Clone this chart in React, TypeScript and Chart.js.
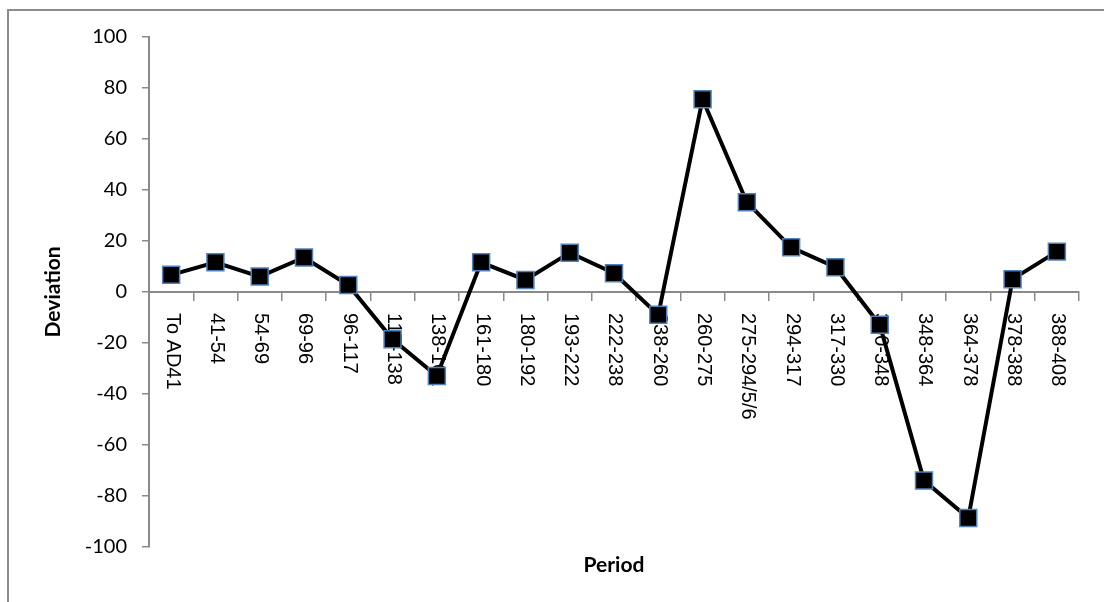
import React, { useEffect, useRef } from 'react';
import { Chart, registerables } from 'chart.js';

Chart.register(...registerables);

const categories: string[] = [
  'To AD41', '41-54', '54-69', '69-96', '96-117', '117-138', '138-161',
  '161-180', '180-192', '193-222', '222-238', '238-260', '260-275',
  '275-294/5/6', '294-317', '317-330', '330-348', '348-364', '364-378',
  '378-388', '388-408',
];

const deviation: number[] = [
  6.7, 11.6, 6.0, 13.5, 2.7, -18.6, -33.0,
  11.6, 4.7, 15.4, 7.3, -9.0, 75.6,
  35.2, 17.5, 9.7, -12.9, -74.0, -88.7,
  5.0, 15.8,
];

const yMin = -100;
const yMax = 100;
const yStep = 20;

const xTitle = 'Period';
const yTitle = 'Deviation';

const AXIS_COLOR = '#8a8a8a';

const categoryLabelPlugin = {
  id: 'categoryLabels',
  beforeDatasetsDraw(chart: any) {
    const xs = chart.scales.x;
    const ys = chart.scales.y;
    const ctx = chart.ctx;
    const y0 = ys.getPixelForValue(0);
    const labels: string[] = chart.data.labels;
    ctx.save();
    ctx.font = '20px "Liberation Sans", Arial, sans-serif';
    ctx.fillStyle = '#000000';
    ctx.textAlign = 'left';
    ctx.textBaseline = 'middle';
    labels.forEach((lab, i) => {
      const px = xs.getPixelForValue(i);
      ctx.save();
      ctx.translate(px + 1, y0 + 21);
      ctx.rotate(Math.PI / 2);
      ctx.fillText(lab, 0, 0);
      ctx.restore();
    });
    ctx.restore();
  },
};

export default function App() {
  const canvasRef = useRef<HTMLCanvasElement | null>(null);

  useEffect(() => {
    if (!canvasRef.current) return;
    const chart = new Chart(canvasRef.current, {
      type: 'line',
      data: {
        labels: categories,
        datasets: [
          {
            label: yTitle,
            data: deviation,
            borderColor: '#000000',
            borderWidth: 4,
            tension: 0,
            pointStyle: 'rect',
            pointRadius: 12,
            pointHoverRadius: 12,
            pointBackgroundColor: '#000000',
            pointBorderColor: '#4f81bd',
            pointBorderWidth: 1.5,
            fill: false,
          },
        ],
      },
      options: {
        responsive: false,
        animation: false,
        devicePixelRatio: 1,
        events: [],
        layout: { padding: { top: 37, right: 25, bottom: 20, left: 0 } },
        plugins: {
          legend: { display: false },
          tooltip: { enabled: false },
          title: {
            display: true,
            text: xTitle,
            position: 'bottom',
            fullSize: false,
            color: '#000000',
            font: { family: 'Lato', size: 21, weight: 'bold' },
            padding: { top: 6, bottom: 4 },
          },
        },
        scales: {
          x: {
            type: 'category',
            position: { y: 0 },
            offset: true,
            grid: {
              offset: true,
              drawOnChartArea: false,
              drawTicks: true,
              tickLength: 8,
              color: AXIS_COLOR,
              lineWidth: 1.5,
            },
            border: { display: true, color: AXIS_COLOR, width: 2 },
            ticks: { display: false },
          },
          y: {
            type: 'linear',
            position: 'left',
            min: yMin,
            max: yMax,
            afterFit: (scale: any) => {
              scale.width = 149;
            },
            ticks: {
              stepSize: yStep,
              color: '#000000',
              font: { family: 'Lato', size: 20 },
              padding: 15,
            },
            grid: {
              drawOnChartArea: false,
              drawTicks: true,
              tickLength: 7,
              color: AXIS_COLOR,
              lineWidth: 1.5,
            },
            border: { display: true, color: AXIS_COLOR, width: 2 },
            title: {
              display: true,
              text: yTitle,
              color: '#000000',
              font: { family: 'Lato', size: 21, weight: 'bold' },
              padding: { top: 41, bottom: 0 },
            },
          },
        },
      },
      plugins: [categoryLabelPlugin],
    } as any);
    return () => {
      chart.destroy();
    };
  }, []);

  return (
    <div>
      <div
        style={{
          position: 'absolute',
          left: 7,
          top: 9,
          width: 1097,
          height: 593,
          borderTop: '2px solid #8c8c8c',
          borderLeft: '2px solid #8c8c8c',
          boxSizing: 'border-box',
          pointerEvents: 'none',
        }}
      />
      <canvas
        ref={canvasRef}
        width={1104}
        height={602}
        style={{ position: 'absolute', left: 0, top: 0, width: 1104, height: 602 }}
      />
    </div>
  );
}
